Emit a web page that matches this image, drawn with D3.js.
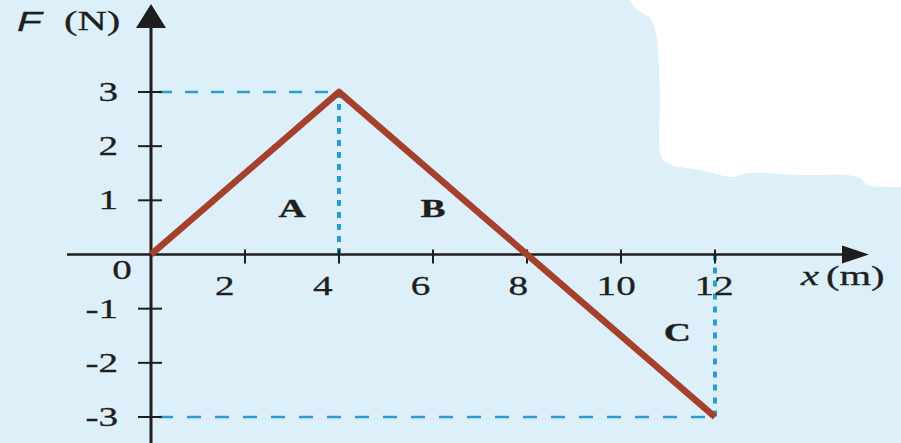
<!DOCTYPE html>
<html><head><meta charset="utf-8">
<script src="https://cdn.jsdelivr.net/npm/d3@7"></script>
<style>html,body{margin:0;padding:0;background:#ddf0fa;}svg{display:block;}</style>
</head><body>
<svg id="c" width="901" height="443"></svg>
<script>
// data
const xs = [0, 4, 8, 12];
const forces = [0, 3, 0, -3];
const xTicks = [2, 4, 6, 8, 10, 12];
const yTicks = [3, 2, 1, -1, -2, -3];
const regionLabels = ["A", "B", "C"];
const regionX = [3.0, 6.0, 11.2];
const regionY = [0.7, 0.7, -1.6];

const svg = d3.select("#c");
const W = 901, H = 443;
const x = d3.scaleLinear().domain([0, 12]).range([151, 715]);
const y = d3.scaleLinear().domain([-3, 3]).range([417, 92]);
const xLab = d3.scaleLinear().domain([0, 12]).range([127, 714]);
const SX = 1.45; // horizontal stretch of the printed glyphs

svg.append("rect").attr("width", W).attr("height", H).attr("fill", "#ddf0fa");
// white paper region top-right
svg.append("path").attr("fill", "#ffffff")
  .attr("d", d3.line().curve(d3.curveCatmullRom)([[630,0],[637,10],[650,18],[656,34],[660,90],[662,158],[672,165],[700,170],[733,177],[748,173],[800,175],[858,177],[868,185],[901,187]]) + "L901,0Z");

const serif = "'Liberation Serif','DejaVu Serif',serif";
const blue = "#2a9dd0";
const ink = "#1e1e1e";

function txt(px, py, s, opts) {
  const t = svg.append("text")
    .attr("transform", `translate(${px},${py}) scale(${SX},1)`)
    .attr("font-family", opts.family || serif)
    .attr("font-size", opts.size || 27)
    .attr("text-anchor", opts.anchor || "start")
    .attr("fill", ink).attr("stroke", ink).attr("stroke-width", 0.3)
    .text(s);
  if (opts.italic) t.attr("font-style", "italic");
  if (opts.bold) t.attr("font-weight", "bold");
  return t;
}

// dashed guides
const peak = 1, end = 3;
svg.append("line").attr("x1", x(0)).attr("x2", x(xs[peak])).attr("y1", y(forces[peak])).attr("y2", y(forces[peak]))
  .attr("stroke", blue).attr("stroke-width", 2.5).attr("stroke-dasharray", "13,13").attr("stroke-dashoffset", -8);
svg.append("line").attr("x1", x(0)).attr("x2", x(xs[end])).attr("y1", y(forces[end])).attr("y2", y(forces[end]))
  .attr("stroke", blue).attr("stroke-width", 2.5).attr("stroke-dasharray", "14,14").attr("stroke-dashoffset", -8);
svg.append("line").attr("x1", x(xs[peak])).attr("x2", x(xs[peak])).attr("y1", y(forces[peak])).attr("y2", y(0))
  .attr("stroke", blue).attr("stroke-width", 4).attr("stroke-dasharray", "6,6");
svg.append("line").attr("x1", x(xs[end])).attr("x2", x(xs[end])).attr("y1", y(0)).attr("y2", y(forces[end]))
  .attr("stroke", blue).attr("stroke-width", 4).attr("stroke-dasharray", "6,7");

// axes
svg.append("line").attr("x1", 67).attr("x2", 842).attr("y1", y(0)).attr("y2", y(0))
  .attr("stroke", ink).attr("stroke-width", 2.5);
svg.append("path").attr("d", `M842,${y(0)-9}L869,${y(0)}L842,${y(0)+9}Z`).attr("fill", ink);
svg.append("line").attr("x1", x(0)).attr("x2", x(0)).attr("y1", H).attr("y2", 26)
  .attr("stroke", ink).attr("stroke-width", 3);
svg.append("path").attr("d", `M${x(0)-15},28L${x(0)},4L${x(0)+15},28Z`).attr("fill", ink);

// ticks
svg.selectAll(".xt").data(xTicks).join("line")
  .attr("x1", d => x(d)).attr("x2", d => x(d)).attr("y1", y(0) - 5).attr("y2", y(0) + 9)
  .attr("stroke", ink).attr("stroke-width", 2);
svg.selectAll(".yt").data(yTicks).join("line")
  .attr("x1", x(0) - 13).attr("x2", x(0) + 11).attr("y1", d => y(d)).attr("y2", d => y(d))
  .attr("stroke", ink).attr("stroke-width", 2);

// tick labels
xTicks.forEach(d => txt(xLab(d), 295, String(d), {anchor: "middle"}));
yTicks.forEach(d => txt(118, y(d) + 9, d < 0 ? "-" + Math.abs(d) : String(d), {anchor: "end"}));
txt(122, 279, "0", {anchor: "middle"});

// axis titles
txt(17, 31, "F", {family: "'Liberation Sans',Arial,sans-serif", italic: true, size: 28});
txt(64, 30, "(N)", {size: 28});
txt(801, 285, "x", {italic: true, size: 28});
txt(826, 285, "(m)", {size: 28});

// force line
svg.append("path").datum(xs.map((v, i) => [v, forces[i]]))
  .attr("d", d3.line().x(d => x(d[0])).y(d => y(d[1])))
  .attr("fill", "none").attr("stroke", "#a4402b").attr("stroke-width", 6.5)
  .attr("stroke-linejoin", "round");

// region labels
regionLabels.forEach((d, i) => txt(x(regionX[i]), y(regionY[i]), d, {anchor: "middle", bold: true, size: 26}));
</script>
</body></html>
